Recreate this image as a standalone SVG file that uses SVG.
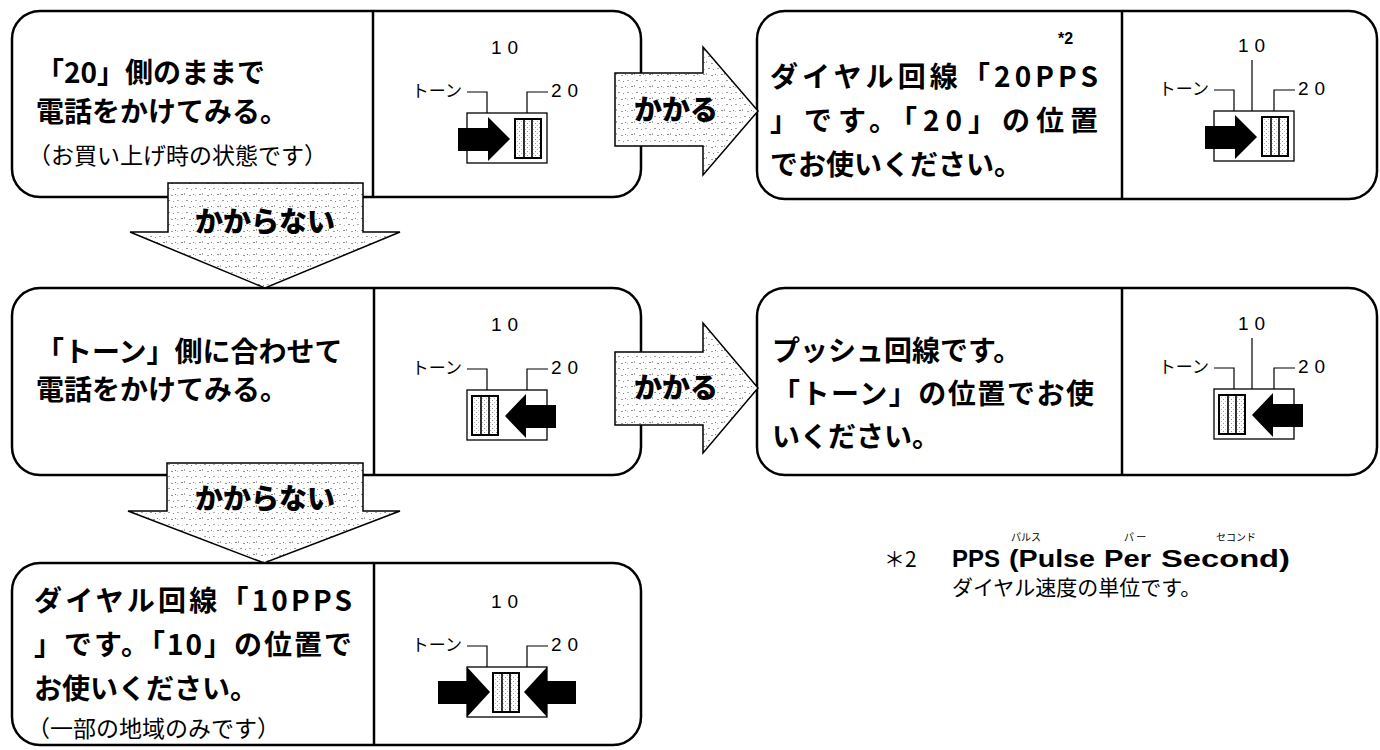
<svg xmlns="http://www.w3.org/2000/svg" xmlns:xlink="http://www.w3.org/1999/xlink" width="1380" height="750" viewBox="0 0 1380 750">
<style>
.box{fill:#fff;stroke:#000;stroke-width:2.5}
.div{stroke:#000;stroke-width:2.5}
.t{font-family:'Noto Sans CJK JP','Liberation Sans',sans-serif;font-size:28px;font-weight:bold;fill:#000}
.s{font-family:'Noto Sans CJK JP','Liberation Sans',sans-serif;font-size:23px;fill:#000}
.lbl{font-family:'Liberation Sans','Noto Sans CJK JP',sans-serif;font-size:19px;letter-spacing:6px;fill:#000}
.kana{font-family:'Noto Sans CJK JP',sans-serif;font-size:17px;fill:#000}
.lead{fill:none;stroke:#000;stroke-width:1.2}
.arw{fill:url(#stip);stroke:#000;stroke-width:1.5}
.al{font-family:'Noto Sans CJK JP',sans-serif;font-size:28px;font-weight:900;fill:#000;stroke:#fff;stroke-width:0.6;paint-order:stroke}
.fn{font-family:'Liberation Sans','Noto Sans CJK JP',sans-serif;font-size:24px;font-weight:bold;fill:#000}
.fr{font-family:'Noto Sans CJK JP',sans-serif;font-size:21px;fill:#000}
.ruby{font-family:'Noto Sans CJK JP',sans-serif;font-size:10px;fill:#000}
</style>
<defs>
<pattern id="stip" width="18" height="12" patternUnits="userSpaceOnUse">
<rect width="18" height="12" fill="#fff"/>
<rect x="1" y="2" width="2" height="1" fill="#888"/>
<rect x="4" y="1" width="1" height="2" fill="#aaa"/>
<rect x="9" y="3" width="2" height="1" fill="#999"/>
<rect x="13" y="2" width="1" height="1" fill="#777"/>
<rect x="15" y="3" width="1" height="1" fill="#bbb"/>
<rect x="15" y="8" width="2" height="1" fill="#aaa"/>
<rect x="6" y="8" width="2" height="1" fill="#999"/>
<rect x="11" y="9" width="1" height="1" fill="#888"/>
<rect x="2" y="9" width="1" height="1" fill="#bbb"/>
</pattern>
<pattern id="ktex" width="4" height="4" patternUnits="userSpaceOnUse">
<rect width="4" height="4" fill="#fff"/>
<rect x="0" y="0" width="1" height="1" fill="#999"/>
<rect x="2" y="2" width="1" height="1" fill="#bbb"/>
</pattern>
<g id="swbase">
<rect x="0" y="0" width="80" height="50" fill="#fff" stroke="#000" stroke-width="1.3"/>
<path class="lead" d="M0,-21H20V0M60,0V-21H81"/>
<text class="lbl" x="24" y="-59">10</text>
<text class="lbl" x="84" y="-16">20</text>
<text class="kana" x="-5" y="-16" text-anchor="end">トーン</text>
</g>
<g id="knob">
<rect width="26" height="39" fill="url(#ktex)" stroke="#000" stroke-width="2"/>
<path d="M9,0V39M17,0V39" stroke="#000" stroke-width="1.6"/>
</g>
<path id="arrR" d="M-9,15H21V4L43,26L21,48V38H-9Z" fill="#000"/>
<path id="arrL" d="M89,15H59V4L38,26L59,48V38H89Z" fill="#000"/>
</defs>
<rect width="1380" height="750" fill="#fff"/>

<g id="node-20-try">
<rect class="box" x="12" y="11" width="629" height="186" rx="28"/>
<line class="div" x1="373" y1="11" x2="373" y2="197"/>
<text class="t" x="36" y="83">「20」側のままで</text>
<text class="t" x="36" y="122">電話をかけてみる。</text>
<text class="s" x="28" y="164">（お買い上げ時の状態です）</text>
<g transform="translate(467,113)">
<use xlink:href="#swbase"/>
<use xlink:href="#arrR"/>
<use xlink:href="#knob" x="48" y="6"/>
</g>
</g>

<g id="node-20pps">
<rect class="box" x="757" y="11" width="620" height="188" rx="28"/>
<line class="div" x1="1122" y1="11" x2="1122" y2="199"/>
<text class="t" x="770" y="87" textLength="328" lengthAdjust="spacing">ダイヤル回線「20PPS</text>
<text x="1058" y="44" style="font-family:'Liberation Sans',sans-serif;font-size:16px;font-weight:bold">*2</text>
<text class="t" x="770" y="131" textLength="328" lengthAdjust="spacing">」です。「20」の位置</text>
<text class="t" x="770" y="175">でお使いください。</text>
<g transform="translate(1214,111)">
<use xlink:href="#swbase"/>
<path class="lead" d="M38,-51V0"/>
<use xlink:href="#arrR"/>
<use xlink:href="#knob" x="48" y="6"/>
</g>
</g>

<g id="node-tone-try">
<rect class="box" x="12" y="288" width="629" height="187" rx="28"/>
<line class="div" x1="374" y1="288" x2="374" y2="475"/>
<text class="t" x="36" y="362">「トーン」側に合わせて</text>
<text class="t" x="36" y="400">電話をかけてみる。</text>
<g transform="translate(467,390)">
<use xlink:href="#swbase"/>
<use xlink:href="#arrL"/>
<use xlink:href="#knob" x="5" y="6"/>
</g>
</g>

<g id="node-push">
<rect class="box" x="757" y="288" width="620" height="187" rx="28"/>
<line class="div" x1="1122" y1="288" x2="1122" y2="475"/>
<text class="t" x="772" y="361">プッシュ回線です。</text>
<text class="t" x="772" y="404" textLength="322" lengthAdjust="spacing">「トーン」の位置でお使</text>
<text class="t" x="772" y="447">いください。</text>
<g transform="translate(1214,389)">
<use xlink:href="#swbase"/>
<path class="lead" d="M38,-51V0"/>
<use xlink:href="#arrL"/>
<use xlink:href="#knob" x="5" y="6"/>
</g>
</g>

<g id="node-10pps">
<rect class="box" x="12" y="563" width="629" height="182" rx="28"/>
<line class="div" x1="374" y1="563" x2="374" y2="745"/>
<text class="t" x="34" y="611" textLength="318" lengthAdjust="spacing">ダイヤル回線「10PPS</text>
<text class="t" x="34" y="655" textLength="318" lengthAdjust="spacing">」です。「10」の位置で</text>
<text class="t" x="34" y="699">お使いください。</text>
<text class="s" x="27" y="737">（一部の地域のみです）</text>
<g transform="translate(467,667)">
<use xlink:href="#swbase"/>
<use xlink:href="#knob" x="26" y="6"/>
<path d="M-29,14H0V0L23,25L0,50V37H-29Z" fill="#000"/>
<path d="M109,14H80V0L57,25L80,50V37H109Z" fill="#000"/>
</g>
</g>

<g id="connectors">
<g id="edge-kakaru-1">
<path class="arw" d="M615,73H703V47L758,111L703,175V146H615Z"/>
<text class="al" x="676" y="120" text-anchor="middle">かかる</text>
</g>
<g id="edge-kakaranai-1">
<path class="arw" d="M168,183H363V232H400L265,288L130,232H168Z"/>
<text class="al" x="265" y="232" text-anchor="middle">かからない</text>
</g>
<g id="edge-kakaru-2">
<path class="arw" d="M615,352H703V323L758,388L703,453V425H615Z"/>
<text class="al" x="676" y="398" text-anchor="middle">かかる</text>
</g>
<g id="edge-kakaranai-2">
<path class="arw" d="M167,463H363V511H400L264,563L128,511H167Z"/>
<text class="al" x="265" y="509" text-anchor="middle">かからない</text>
</g>
</g>

<g id="footnote">
<text class="fr" x="884" y="567">＊2</text>
<text class="ruby" x="1011" y="541">パルス</text>
<text class="ruby" x="1124" y="541">パ ー</text>
<text class="ruby" x="1216" y="541">セコンド</text>
<text class="fn" x="952" y="567" textLength="48" lengthAdjust="spacingAndGlyphs">PPS</text>
<text class="fn" x="1009" y="567" textLength="86" lengthAdjust="spacingAndGlyphs">(Pulse</text>
<text class="fn" x="1104" y="567" textLength="47" lengthAdjust="spacingAndGlyphs">Per</text>
<text class="fn" x="1161" y="567" textLength="129" lengthAdjust="spacingAndGlyphs">Second)</text>
<text class="fr" x="952" y="595">ダイヤル速度の単位です。</text>
</g>
</svg>
